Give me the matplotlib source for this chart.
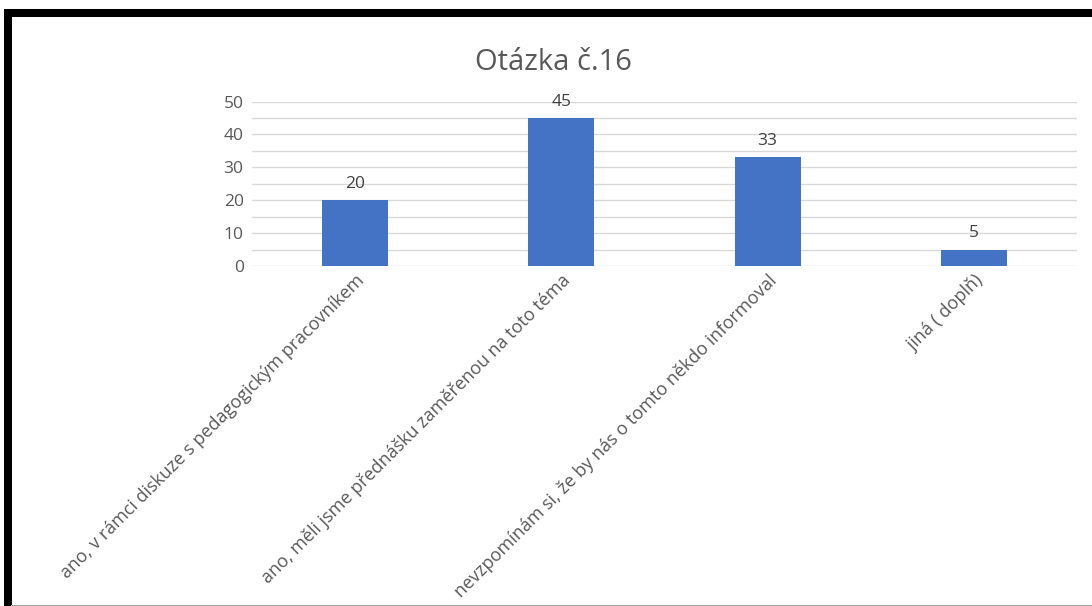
import matplotlib.pyplot as plt
from matplotlib.patches import Rectangle
from matplotlib.lines import Line2D

# Datos
categorias = [
    "ano, v rámci diskuze s pedagogickým pracovníkem",
    "ano, měli jsme přednášku zaměřenou na toto téma",
    "nevzpomínám si, že by nás o tomto někdo informoval",
    "jiná ( doplň)",
]
valores = [20, 45, 33, 5]
titulo = "Otázka č.16"

gris = "#595959"
plt.rcParams["font.family"] = ["Open Sans", "DejaVu Sans"]

fig = plt.figure(figsize=(10.92, 6.06), dpi=100)
W, H = 1092, 606

# Marco negro de la captura
fig.add_artist(Rectangle((4 / W, 1 - 17 / H), 1 - 4 / W, 8 / H,
                         transform=fig.transFigure, color="black", lw=0))
fig.add_artist(Rectangle((4 / W, 0), 8 / W, 1 - 9 / H,
                         transform=fig.transFigure, color="black", lw=0))
fig.add_artist(Line2D([12 / W, 1], [0.5 / H, 0.5 / H],
                      transform=fig.transFigure, color="#a6a6a6", lw=1.5))

ax = fig.add_axes([252 / W, 1 - 266 / H, (1077 - 252) / W, (266 - 101.5) / H])

x = range(len(categorias))
barras = ax.bar(x, valores, width=0.32, color="#4472C4", zorder=3)
ax.bar_label(barras, padding=6, fontsize=12.5, color="#404040")

ax.set_xlim(-0.5, len(categorias) - 0.5)
ax.set_ylim(0, 50)
ax.set_yticks(range(0, 51, 10))
ax.set_yticks(range(5, 50, 10), minor=True)
ax.grid(axis="y", which="both", color="#d9d9d9", lw=1, zorder=0)
ax.tick_params(axis="both", which="both", length=0, labelcolor=gris)
ax.tick_params(axis="y", pad=6, labelsize=12.5)
ax.tick_params(axis="x", pad=4, labelsize=13)
ax.set_xticks(list(x))
ax.set_xticklabels(categorias, rotation=45, ha="right", rotation_mode="anchor")
for s in ax.spines.values():
    s.set_visible(False)

fig.text(553 / W, 1 - 62 / H, titulo, ha="center", va="center",
         fontsize=21, color=gris)

fig.savefig("out.png", dpi=100)
